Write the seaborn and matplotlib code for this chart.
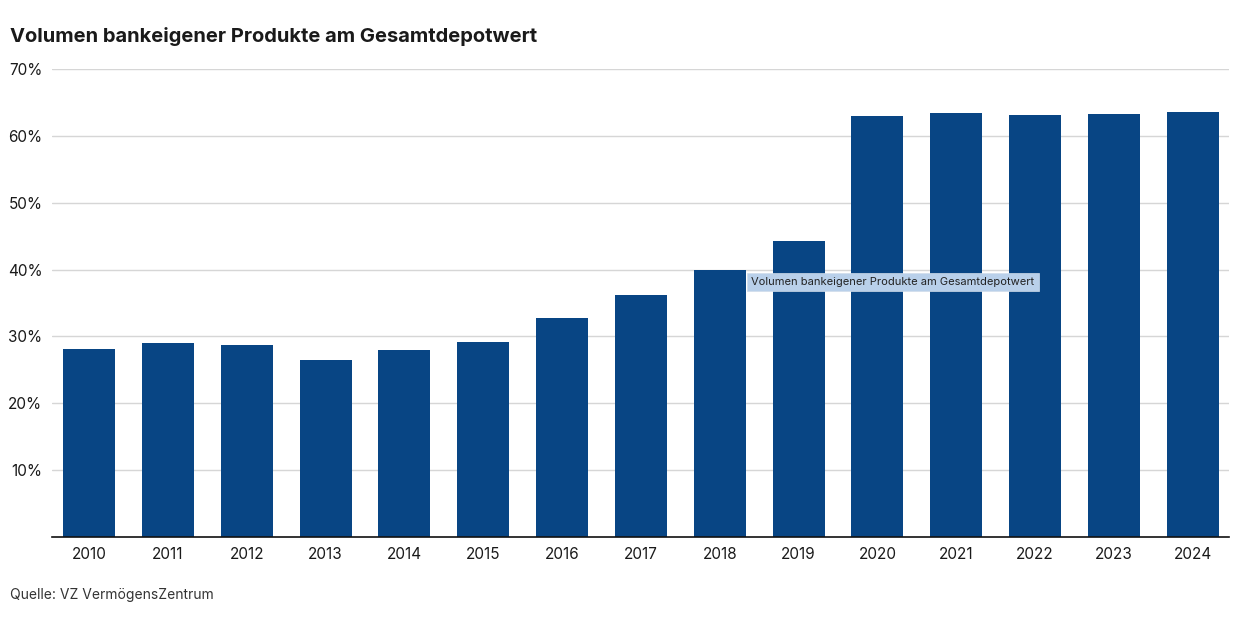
import matplotlib
matplotlib.use("Agg")
import matplotlib.pyplot as plt
import seaborn as sns
import pandas as pd

years = ["2010", "2011", "2012", "2013", "2014", "2015", "2016", "2017",
         "2018", "2019", "2020", "2021", "2022", "2023", "2024"]
values = [28.1, 29.0, 28.7, 26.5, 28.0, 29.1, 32.7, 36.2,
          39.9, 44.2, 62.9, 63.4, 63.1, 63.2, 63.5]
yticks = [10, 20, 30, 40, 50, 60, 70]
title = "Volumen bankeigener Produkte am Gesamtdepotwert"
source = "Quelle: VZ VermögensZentrum"
tooltip = "Volumen bankeigener Produkte am Gesamtdepotwert"

sns.set_theme(style="white")
plt.rcParams['font.family'] = ['Inter', 'DejaVu Sans']

df = pd.DataFrame({"Jahr": years, "Wert": values})

fig = plt.figure(figsize=(12.39, 6.27), dpi=100)
ax = fig.add_axes([52/1239, 1-537/627, (1229-52)/1239, (537-69)/627])

sns.barplot(data=df, x="Jahr", y="Wert", color="#084584", saturation=1,
            width=0.66, ax=ax, zorder=3, linewidth=0, edgecolor="none")

ax.set_ylim(0, 70)
ax.set_xlim(-0.47, 14.46)
ax.set_yticks(yticks)
ax.set_yticklabels([f"{t}%" for t in yticks])
ax.yaxis.grid(True, color="#d6d6d6", linewidth=1, zorder=0)
ax.set_axisbelow(True)
ax.set_xlabel("")
ax.set_ylabel("")
for s in ["top", "right", "left"]:
    ax.spines[s].set_visible(False)
ax.spines["bottom"].set_color("#111111")
ax.spines["bottom"].set_linewidth(1.2)
ax.spines["bottom"].set_zorder(5)
ax.tick_params(axis="both", length=0, labelsize=11, colors="#1a1a1a")
ax.tick_params(axis="y", pad=7)
ax.tick_params(axis="x", pad=7)

fig.text(10/1239, 1-36/627, title, fontsize=14.5, fontweight="bold",
         color="#1a1a1a", ha="left", va="center")
fig.text(10/1239, 1-595/627, source, fontsize=10, color="#333333",
         ha="left", va="center")

fig.text(751/1239, 1-282/627, tooltip, fontsize=8, color="#222222",
         ha="left", va="center",
         bbox=dict(boxstyle="square,pad=0.4", facecolor="#b9d0ea",
                   edgecolor="#d0dcea", linewidth=0.5), zorder=10)

fig.savefig("out.png", dpi=100)
